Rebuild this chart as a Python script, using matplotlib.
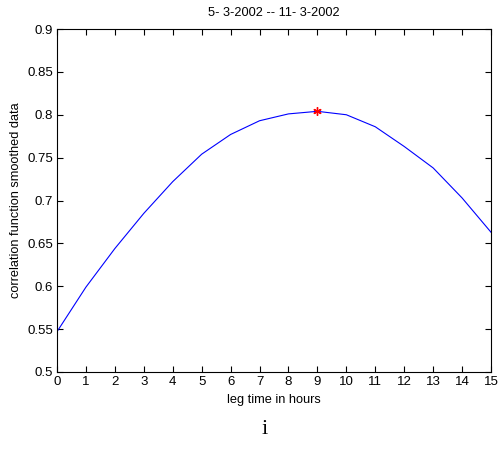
import numpy as np
import matplotlib.pyplot as plt

# smoothed correlation function, sampled every hour of lag
lag_hours = [0, 1, 2, 3, 4, 5, 6, 7, 8, 9, 10, 11, 12, 13, 14, 15]
corr = [0.547, 0.599, 0.644, 0.685, 0.722, 0.754, 0.777, 0.793, 0.801, 0.804,
        0.800, 0.786, 0.763, 0.738, 0.703, 0.663]
peak_lag = 9
peak_corr = 0.804

xticks = list(range(0, 16))
yticks = [0.5, 0.55, 0.6, 0.65, 0.7, 0.75, 0.8, 0.85, 0.9]
ytick_labels = ['0.5', '0.55', '0.6', '0.65', '0.7', '0.75', '0.8', '0.85', '0.9']

plt.rcParams['font.family'] = ['Liberation Sans', 'DejaVu Sans']

fig = plt.figure(figsize=(4.99, 4.5), dpi=100)
ax = fig.add_axes([57/499, 78/450, 434/499, 343/450])

ax.plot(lag_hours, corr, color='blue', linewidth=0.8)
ax.plot([peak_lag], [peak_corr], linestyle='none', marker=(6, 2, 0),
        markersize=6, color='red', markeredgewidth=1.0)

ax.set_xlim(0, 15)
ax.set_ylim(0.5, 0.9)
ax.set_xticks(xticks)
ax.set_yticks(yticks)
ax.set_yticklabels(ytick_labels)
ax.tick_params(direction='in', length=4, width=0.8, top=True, right=True,
               labelsize=9.5, pad=3)
for s in ax.spines.values():
    s.set_linewidth(0.8)

ax.set_title('5- 3-2002 -- 11- 3-2002', fontsize=9.2, pad=9)
ax.set_xlabel('leg time in hours', fontsize=9.2, labelpad=4)
ax.set_ylabel('correlation function smoothed data', fontsize=9.2, labelpad=4)

fig.text(265/499, 1 - 430/450, 'i', family='Liberation Serif', fontsize=16,
         ha='center', va='center')

fig.savefig('out.png', dpi=100)
